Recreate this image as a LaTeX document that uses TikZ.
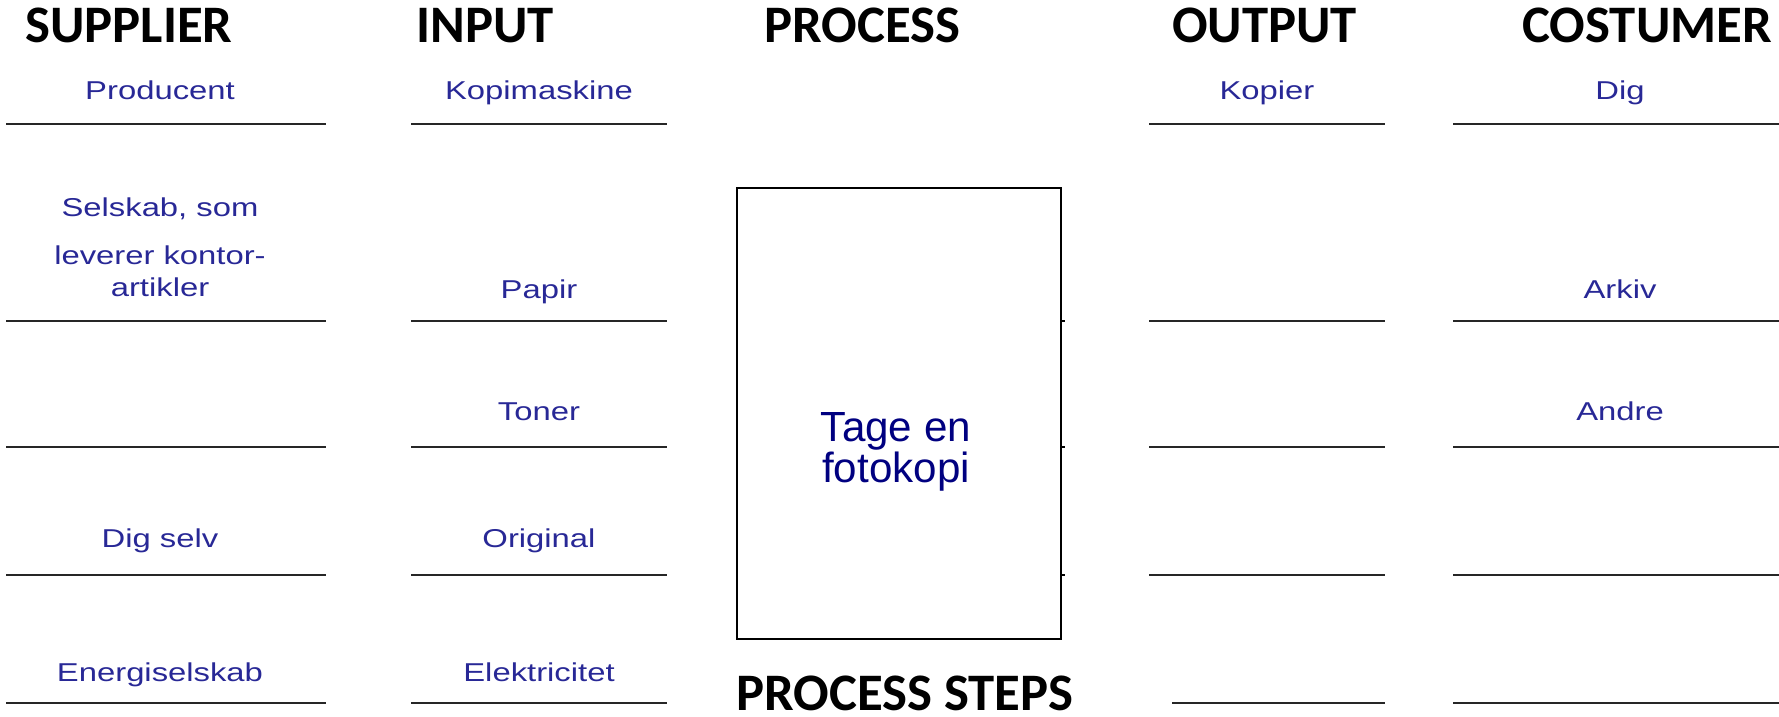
\documentclass[tikz,border=0pt]{standalone}
\usepackage{fontspec}
\setmainfont{Liberation Sans}
\newfontfamily\headfont{Carlito}
\definecolor{formblue}{RGB}{40,40,150}
\definecolor{boxblue}{RGB}{0,0,128}

\begin{document}
\begin{tikzpicture}[x=0.02cm,y=-0.02cm,
    head/.style={font=\headfont\bfseries\fontsize{30}{30}\selectfont, anchor=base west, inner sep=0pt},
    entry/.style={font=\fontsize{14.7}{18}\selectfont, text=formblue, anchor=base, inner sep=0pt, xscale=1.27},
    rule/.style={line width=1.2pt, black!85}]
    \useasboundingbox (0,0) rectangle (1779,717);

    % column heads
    \node[head] (supplier) at (25,42) {SUPPLIER};
    \node[head] (input) at (416,42) {INPUT};
    \node[head] (process) at (764,42) {PROCESS};
    \node[head] (output) at (1172,42) {OUTPUT};
    \node[head] (costumer) at (1522,42) {COSTUMER};
    \node[head] (steps) at (736,710) {PROCESS STEPS};

    % blank lines of the form
    \foreach \y in {124,321,447,575,703} {
        \draw[rule] (6,\y) -- (326,\y);
        \draw[rule] (411,\y) -- (667,\y);
        \draw[rule] (1453,\y) -- (1779,\y);
    }
    \foreach \y in {124,321,447,575}
        \draw[rule] (1149,\y) -- (1385,\y);
    \draw[rule] (1172,703) -- (1385,703);

    % process box
    \node[draw, line width=1.1pt, minimum width=6.47cm, minimum height=9.02cm, inner sep=0pt]
        (proc) at (899,413.5) {};
    \foreach \y in {321,447,575}
        \draw[line width=1.1pt] (1061,\y) -- (1065,\y);
    \node[font=\fontsize{24}{20}\selectfont, text=boxblue, align=center, anchor=north, inner sep=0pt]
        (task) at (896,412) {Tage en\\fotokopi};

    % supplier
    \node[entry] (producent) at (160,99) {Producent};
    \node[entry, align=center, anchor=north] (selskab) at (160,197) {Selskab, som\\[9.5pt]leverer kontor-\\artikler};
    \node[entry] (digselv) at (160,547) {Dig selv};
    \node[entry] (energi) at (160,681) {Energiselskab};

    % input
    \node[entry] (kopimaskine) at (539,99) {Kopimaskine};
    \node[entry] (papir) at (539,298) {Papir};
    \node[entry] (toner) at (539,420) {Toner};
    \node[entry] (original) at (539,547) {Original};
    \node[entry] (el) at (539,681) {Elektricitet};

    % output
    \node[entry] (kopier) at (1267,99) {Kopier};

    % costumer
    \node[entry] (dig) at (1620,99) {Dig};
    \node[entry] (arkiv) at (1620,298) {Arkiv};
    \node[entry] (andre) at (1620,420) {Andre};
\end{tikzpicture}
\end{document}
